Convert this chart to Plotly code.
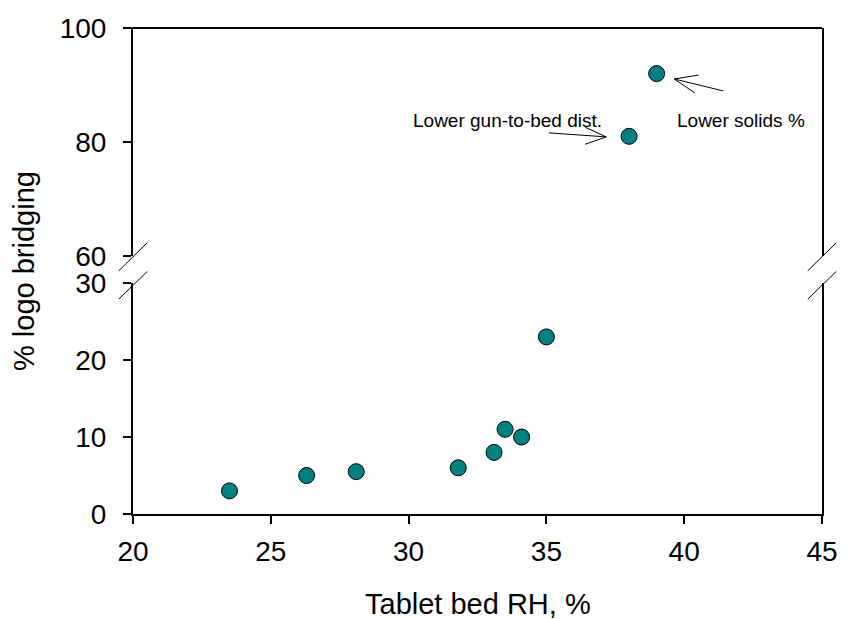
import plotly.graph_objects as go

# Data
rh_low = [23.5, 26.3, 28.1, 31.8, 33.1, 33.5, 34.1, 35.0]
bridging_low = [3, 5, 5.5, 6, 8, 11, 10, 23]
rh_high = [38.0, 39.0]
bridging_high = [81, 92]

x_ticks = [20, 25, 30, 35, 40, 45]
y_low_ticks = [0, 10, 20, 30]
y_high_ticks = [60, 80, 100]

FONT = "Liberation Sans, Arial, sans-serif"
TEAL = "#008080"

fig = go.Figure()
marker = dict(size=16, color=TEAL, line=dict(color="black", width=1))
fig.add_trace(go.Scatter(x=rh_low, y=bridging_low, mode="markers", marker=marker,
                         xaxis="x", yaxis="y", showlegend=False))
fig.add_trace(go.Scatter(x=rh_high, y=bridging_high, mode="markers", marker=marker,
                         xaxis="x", yaxis="y2", showlegend=False))

L, R, T, B = 133, 18.5, 28, 105
H = 619 - T - B
low_top = 231 / H
high_bot = (514 - 256) / H

axis_common = dict(showgrid=False, zeroline=False, showline=True, linecolor="black",
                   linewidth=2, ticks="outside", ticklen=8, tickwidth=2, tickcolor="black",
                   ticklabeloverflow="allow",
                   tickfont=dict(family=FONT, size=28, color="black"))

fig.update_layout(
    width=850, height=619,
    margin=dict(l=L, r=R, t=T, b=B),
    paper_bgcolor="white", plot_bgcolor="white",
    font=dict(family=FONT, color="black"),
    xaxis=dict(range=[20, 45], tickvals=x_ticks, anchor="y", mirror=False,
               ticklabelstandoff=3, **axis_common),
    yaxis=dict(range=[0, 30], tickvals=y_low_ticks, domain=[0, low_top], anchor="x",
               mirror=True, ticklabelstandoff=11, **axis_common),
    yaxis2=dict(range=[60, 100], tickvals=y_high_ticks, domain=[high_bot, 1], anchor="x",
                mirror=True, ticklabelstandoff=11, **axis_common),
)

# top border
fig.add_shape(type="line", xref="x domain", yref="y2 domain", x0=-0.012, x1=1, y0=1, y1=1,
              line=dict(color="black", width=2))

# axis break marks
dx = 0.0207
for xc in [0, 1]:
    fig.add_shape(type="line", xref="x domain", yref="y2 domain",
                  x0=xc - dx, x1=xc + dx, y0=-0.065, y1=0.058,
                  line=dict(color="black", width=1))
    fig.add_shape(type="line", xref="x domain", yref="y domain",
                  x0=xc - dx, x1=xc + dx, y0=0.93, y1=1.05,
                  line=dict(color="black", width=1))

# axis titles
fig.add_annotation(text="Tablet bed RH, %", xref="paper", yref="paper", x=0.5, y=0,
                   yshift=-90, showarrow=False, font=dict(size=29, family=FONT),
                   xanchor="center", yanchor="middle")
fig.add_annotation(text="% logo bridging", xref="paper", yref="paper", x=0, y=0.5,
                   xshift=-109, showarrow=False, textangle=-90,
                   font=dict(size=29, family=FONT), xanchor="center", yanchor="middle")

# callout texts
fig.add_annotation(text="Lower gun-to-bed dist.", xref="x", yref="y2", x=33.59, y=83.86,
                   showarrow=False, font=dict(size=19, family=FONT))
fig.add_annotation(text="Lower solids %", xref="x", yref="y2", x=42.05, y=83.86,
                   showarrow=False, font=dict(size=19, family=FONT))

# open arrows
arrows = [
    ((35.09, 81.6), (37.17, 80.9), (36.41, 82.58), (36.41, 79.6)),
    ((41.42, 88.95), (39.64, 91.05), (40.53, 91.75), (40.39, 88.6)),
]
for tail, head, a1, a2 in arrows:
    path = (f"M {tail[0]} {tail[1]} L {head[0]} {head[1]} "
            f"M {a1[0]} {a1[1]} L {head[0]} {head[1]} L {a2[0]} {a2[1]}")
    fig.add_shape(type="path", xref="x", yref="y2", path=path,
                  line=dict(color="black", width=1))

fig.write_html("out.html")
